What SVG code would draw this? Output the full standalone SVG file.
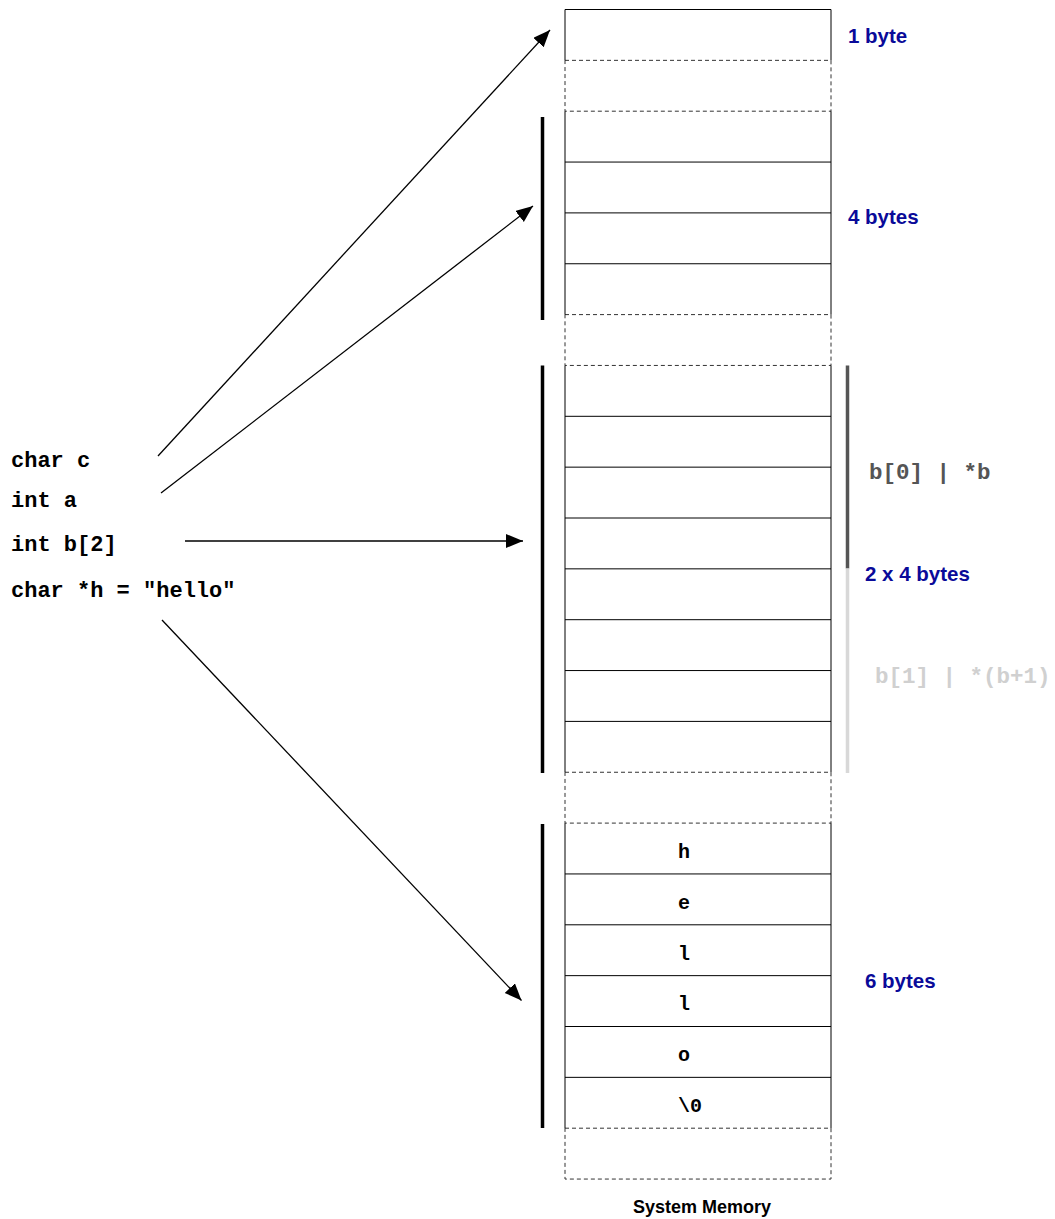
<svg xmlns="http://www.w3.org/2000/svg" width="1055" height="1219" viewBox="0 0 1055 1219">
<style>
.cell{fill:none;stroke:#000;stroke-width:1}
.gap{fill:none;stroke:#333;stroke-width:1;stroke-dasharray:4,3}
.bar{stroke:#000;stroke-width:3.5}
.code{font-family:"Liberation Mono","Courier New",monospace;font-weight:bold;font-size:22px;fill:#000}
.cellch{font-family:"Liberation Mono","Courier New",monospace;font-weight:bold;font-size:20px;fill:#000}
.size{font-family:"Liberation Sans",Arial,sans-serif;font-weight:bold;font-size:20.5px;fill:#0a0a99}
.anno{font-family:"Liberation Mono","Courier New",monospace;font-weight:bold;font-size:22.5px}
.conn{stroke:#000;stroke-width:1.3;fill:none;marker-end:url(#arrow)}
</style>
<defs>
<marker id="arrow" markerUnits="userSpaceOnUse" markerWidth="18" markerHeight="15" refX="17" refY="7" orient="auto">
<path d="M0,0 L17,7 L0,14 Z" fill="#000"/>
</marker>
</defs>
<rect width="1055" height="1219" fill="#fff"/>

<g id="gaps">
<rect class="gap" x="565" y="60.35" width="266" height="50.85"/>
<rect class="gap" x="565" y="314.6" width="266" height="50.85"/>
<rect class="gap" x="565" y="772.25" width="266" height="50.85"/>
<rect class="gap" x="565" y="1128.2" width="266" height="50.85"/>
</g>

<g id="mem-c">
<path class="cell" d="M565,60.35 V9.5 H831 V60.35"/>
<text class="size" x="848" y="43">1 byte</text>
</g>

<g id="mem-a">
<path class="cell" d="M565,111.2 V314.6 M831,111.2 V314.6 M565,162.05 H831 M565,212.9 H831 M565,263.75 H831"/>
<line class="bar" x1="542.5" y1="117" x2="542.5" y2="320"/>
<text class="size" x="848" y="224">4 bytes</text>
</g>

<g id="mem-b">
<path class="cell" d="M565,365.45 V772.25 M831,365.45 V772.25 M565,416.3 H831 M565,467.15 H831 M565,518 H831 M565,568.85 H831 M565,619.7 H831 M565,670.55 H831 M565,721.4 H831"/>
<line class="bar" x1="542.5" y1="365.5" x2="542.5" y2="773"/>
<line x1="847.5" y1="365.5" x2="847.5" y2="568.5" stroke="#555" stroke-width="3.5"/>
<line x1="847.5" y1="568.5" x2="847.5" y2="773" stroke="#d8d8d8" stroke-width="3.5"/>
<text class="anno" x="869" y="479" fill="#555" xml:space="preserve">b[0] | *b</text>
<text class="size" x="865" y="581">2 x 4 bytes</text>
<text class="anno" x="875" y="683" fill="#d0d0d0" xml:space="preserve">b[1] | *(b+1)</text>
</g>

<g id="mem-h">
<path class="cell" d="M565,823.1 V1128.2 M831,823.1 V1128.2 M565,873.95 H831 M565,924.8 H831 M565,975.65 H831 M565,1026.5 H831 M565,1077.35 H831"/>
<line class="bar" x1="542.5" y1="824" x2="542.5" y2="1128"/>
<text class="cellch" x="678" y="858">h</text>
<text class="cellch" x="678" y="909">e</text>
<text class="cellch" x="678" y="959.5">l</text>
<text class="cellch" x="678" y="1010">l</text>
<text class="cellch" x="678" y="1061">o</text>
<text class="cellch" x="678" y="1112">\0</text>
<text class="size" x="865" y="988">6 bytes</text>
</g>

<g id="code">
<text class="code" x="11" y="467">char c</text>
<text class="code" x="11" y="507">int a</text>
<text class="code" x="11" y="551">int b[2]</text>
<text class="code" x="11" y="597">char *h = "hello"</text>
</g>

<g id="caption">
<text x="702" y="1213" text-anchor="middle" font-family="'Liberation Sans',Arial,sans-serif" font-weight="bold" font-size="18px" fill="#000">System Memory</text>
</g>

<g id="connectors">
<line class="conn" x1="158" y1="456" x2="550" y2="30"/>
<line class="conn" x1="161" y1="493" x2="533" y2="206"/>
<line class="conn" x1="185" y1="541" x2="523" y2="541"/>
<line class="conn" x1="162" y1="620" x2="521.5" y2="1000.5"/>
</g>
</svg>
